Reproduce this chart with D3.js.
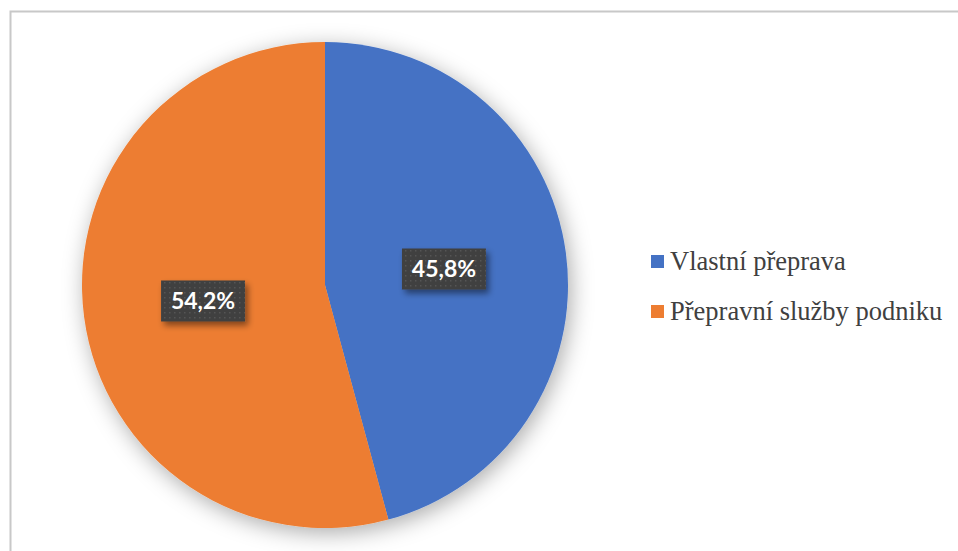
<!DOCTYPE html>
<html>
<head>
<meta charset="utf-8">
<script src="https://cdn.jsdelivr.net/npm/d3@7"></script>
<style>
  body { margin: 0; background: #fff; }
</style>
</head>
<body>
<script>
var width = 958;
var height = 551;

// data
var categories = ['Vlastní přeprava', 'Přepravní služby podniku'];
var values = [45.8, 54.2];
var labels = ['45,8%', '54,2%'];

var color = d3.scaleOrdinal().domain(categories)
  .range(['#4472C4', '#ED7D31']);

var cx = 325, cy = 285, radius = 243;

var svg = d3.select('body')
  .append('svg')
  .attr('width', width)
  .attr('height', height);

var defs = svg.append('defs');

// soft shadow round the pie
var f = defs.append('filter').attr('id', 'pieShadow')
  .attr('x', '-20%').attr('y', '-20%').attr('width', '140%').attr('height', '140%');
f.append('feDropShadow')
  .attr('dx', 3).attr('dy', 5).attr('stdDeviation', 11)
  .attr('flood-color', '#000').attr('flood-opacity', 0.33);

// shadow for the data label boxes
var f2 = defs.append('filter').attr('id', 'boxShadow')
  .attr('x', '-20%').attr('y', '-30%').attr('width', '150%').attr('height', '170%');
f2.append('feDropShadow')
  .attr('dx', 3).attr('dy', 4).attr('stdDeviation', 3)
  .attr('flood-color', '#000').attr('flood-opacity', 0.45);

// dotted texture inside label boxes
var pat = defs.append('pattern').attr('id', 'dots')
  .attr('width', 5).attr('height', 5).attr('patternUnits', 'userSpaceOnUse');
pat.append('rect').attr('width', 5).attr('height', 5).attr('fill', '#404040');
pat.append('rect').attr('x', 1).attr('y', 1).attr('width', 1.5).attr('height', 1.5)
  .attr('fill', '#555');

// chart frame (only top and left edge visible)
svg.append('path')
  .attr('d', 'M10.5,' + (height + 5) + 'V11.5H' + (width + 5))
  .attr('fill', 'none')
  .attr('stroke', '#c8c8c8')
  .attr('stroke-width', 2);

var pie = d3.pie().sort(null).value(function(d) { return d; });
var arcs = pie(values);

var arc = d3.arc().innerRadius(0).outerRadius(radius);

var g = svg.append('g')
  .attr('transform', 'translate(' + cx + ',' + cy + ')');

g.append('g')
  .attr('filter', 'url(#pieShadow)')
  .selectAll('path')
  .data(arcs)
  .enter()
  .append('path')
  .attr('d', arc)
  .attr('fill', function(d, i) { return color(categories[i]); });

// data labels
var labelArc = d3.arc().innerRadius(radius * 0.5).outerRadius(radius * 0.5);
var boxW = 84, boxH = 41;

var lab = g.selectAll('.lab')
  .data(arcs)
  .enter()
  .append('g')
  .attr('class', 'lab')
  .attr('transform', function(d) {
    var c = labelArc.centroid(d);
    return 'translate(' + (c[0] - 1.5) + ',' + c[1] + ')';
  });

lab.append('rect')
  .attr('x', -boxW / 2)
  .attr('y', -boxH / 2)
  .attr('width', boxW)
  .attr('height', boxH)
  .attr('fill', 'url(#dots)')
  .attr('filter', 'url(#boxShadow)');

lab.append('text')
  .attr('text-anchor', 'middle')
  .attr('dy', '0.36em')
  .attr('fill', '#fff')
  .attr('font-family', 'Lato, "Open Sans", sans-serif')
  .attr('font-weight', 'bold')
  .attr('font-size', 23)
  .text(function(d, i) { return labels[i]; });

// legend
var legend = svg.append('g')
  .selectAll('g')
  .data(categories)
  .enter()
  .append('g')
  .attr('transform', function(d, i) {
    return 'translate(651,' + (270 + i * 50) + ')';
  });

legend.append('rect')
  .attr('y', -15)
  .attr('width', 13)
  .attr('height', 13)
  .attr('fill', color);

legend.append('text')
  .attr('x', 19)
  .attr('y', 0)
  .attr('fill', '#404040')
  .attr('font-family', '"Liberation Serif", "Times New Roman", serif')
  .attr('font-size', 26.5)
  .text(function(d) { return d; });
</script>
</body>
</html>
